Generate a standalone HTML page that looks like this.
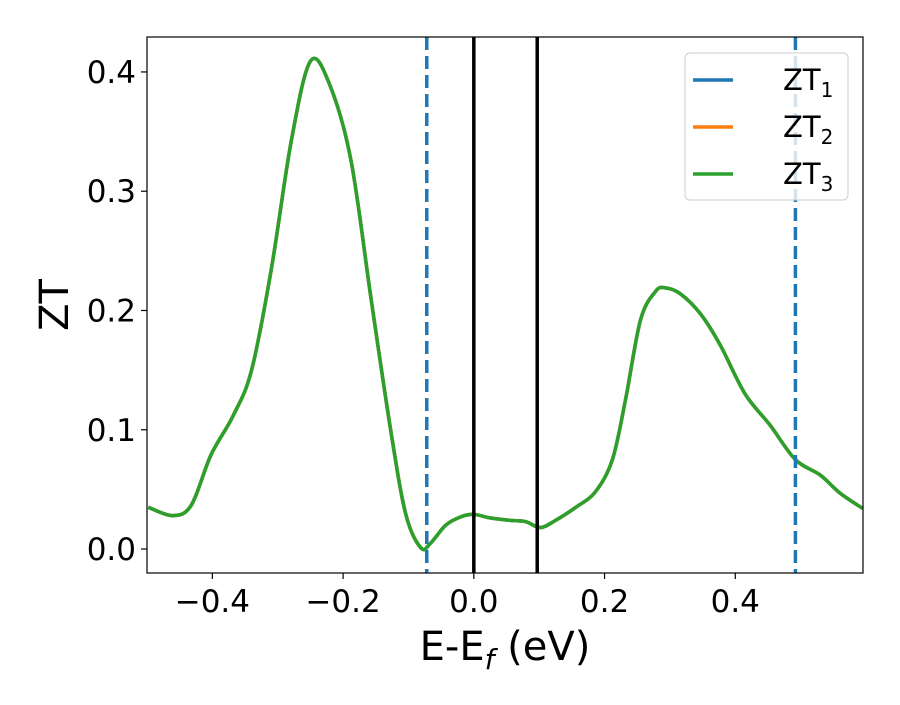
<!DOCTYPE html>
<html><head><meta charset="utf-8"><style>
body{margin:0;background:#fff}
svg text{font-family:"DejaVu Sans","Liberation Sans",sans-serif;fill:#000}
</style></head><body>
<svg id="chart" width="900" height="700" xmlns="http://www.w3.org/2000/svg">
<rect x="0" y="0" width="900" height="700" fill="#fff"/>
<g id="plot"></g>
</svg>
<script>
const energies=[-0.498,-0.460,-0.432,-0.402,-0.368,-0.340,-0.310,-0.279,-0.250,-0.221,-0.188,-0.157,-0.127,-0.104,-0.081,-0.066,-0.043,-0.020,0.000,0.026,0.056,0.079,0.102,0.125,0.156,0.186,0.212,0.232,0.255,0.278,0.293,0.316,0.347,0.377,0.415,0.453,0.492,0.530,0.560,0.595];
const ztValues=[0.035,0.028,0.037,0.079,0.112,0.150,0.234,0.343,0.409,0.390,0.326,0.209,0.099,0.029,0.001,0.005,0.020,0.027,0.029,0.026,0.024,0.023,0.018,0.024,0.035,0.048,0.075,0.125,0.192,0.216,0.219,0.214,0.197,0.171,0.130,0.104,0.075,0.062,0.047,0.034];
const dashedLines=[-0.072,0.492];
const solidLines=[0.0,0.097];
const xTicks=[-0.4,-0.2,0.0,0.2,0.4];
const xTickLabels=["\u22120.4","\u22120.2","0.0","0.2","0.4"];
const yTicks=[0.0,0.1,0.2,0.3,0.4];
const yTickLabels=["0.0","0.1","0.2","0.3","0.4"];
const seriesNames=["1","2","3"];
const seriesColors=["#1f77b4","#ff7f0e","#2ca02c"];

const L=147,R=863,T=37,B=573;
const xMin=-0.5,xMax=0.5954,yMin=-0.0201,yMax=0.4293;
const sx=v=>L+(v-xMin)/(xMax-xMin)*(R-L);
const sy=v=>B-(v-yMin)/(yMax-yMin)*(B-T);
const NS="http://www.w3.org/2000/svg";
const g=document.getElementById('plot');
function mk(tag,attrs,parent){const e=document.createElementNS(NS,tag);for(const k in attrs)e.setAttribute(k,attrs[k]);(parent||g).appendChild(e);return e;}

const defs=mk('defs',{});
const cp=mk('clipPath',{id:'clip'},defs);mk('rect',{x:L,y:T,width:R-L,height:B-T},cp);

const pts=energies.map((e,i)=>[sx(e),sy(ztValues[i])]);
let d=`M${pts[0][0]},${pts[0][1]}`;
for(let i=0;i<pts.length-1;i++){const p0=pts[Math.max(0,i-1)],p1=pts[i],p2=pts[i+1],p3=pts[Math.min(pts.length-1,i+2)];
d+=` C${p1[0]+(p2[0]-p0[0])/6},${p1[1]+(p2[1]-p0[1])/6} ${p2[0]-(p3[0]-p1[0])/6},${p2[1]-(p3[1]-p1[1])/6} ${p2[0]},${p2[1]}`;}
seriesColors.forEach((c,i)=>{
const p=mk('path',{d:d,fill:'none',stroke:c,'stroke-width':3.5,'clip-path':'url(#clip)'});


});
dashedLines.forEach(v=>{
const l=mk('line',{x1:sx(v),x2:sx(v),y1:T,y2:B,stroke:'#1f77b4','stroke-width':3.5,'stroke-dasharray':'13,6'});


});
solidLines.forEach(v=>{
const l=mk('line',{x1:sx(v),x2:sx(v),y1:T,y2:B,stroke:'#000','stroke-width':3.5});


});
const fr=mk('rect',{x:L,y:T,width:R-L,height:B-T,fill:'none',stroke:'#000','stroke-width':1.2});


xTicks.forEach((v,i)=>{
mk('line',{x1:sx(v),x2:sx(v),y1:B,y2:B+6,stroke:'#000','stroke-width':1.2});
const t=mk('text',{x:sx(v),y:B+39,'text-anchor':'middle','font-size':31});t.textContent=xTickLabels[i];


});
yTicks.forEach((v,i)=>{
mk('line',{x1:L-6,x2:L,y1:sy(v),y2:sy(v),stroke:'#000','stroke-width':1.2});
const t=mk('text',{x:L-11,y:sy(v)+11,'text-anchor':'end','font-size':31});t.textContent=yTickLabels[i];


});
const xt=mk('text',{x:(L+R)/2,y:660,'text-anchor':'middle','font-size':40});
xt.innerHTML='E-E<tspan font-style="italic" font-size="28" dy="9">f</tspan><tspan dy="-9"> (eV)</tspan>';


const yt=mk('text',{x:68,y:(T+B)/2,'text-anchor':'middle','font-size':40,transform:`rotate(-90 68 ${(T+B)/2})`});
yt.textContent='ZT';


const lg=mk('g',{});


mk('rect',{x:685,y:53,width:163,height:147,rx:5,fill:'#fff','fill-opacity':0.8,stroke:'#ccc','stroke-width':1},lg);
seriesNames.forEach((n,i)=>{
const y=80+i*47;
const e=mk('g',{},lg);


mk('line',{x1:693,x2:733,y1:y,y2:y,stroke:seriesColors[i],'stroke-width':3.5},e);
const t=mk('text',{x:783,y:y+10,'font-size':29},e);
t.innerHTML='ZT<tspan font-size="20" dy="7">'+n+'</tspan>';
});
</script>
</body></html>
